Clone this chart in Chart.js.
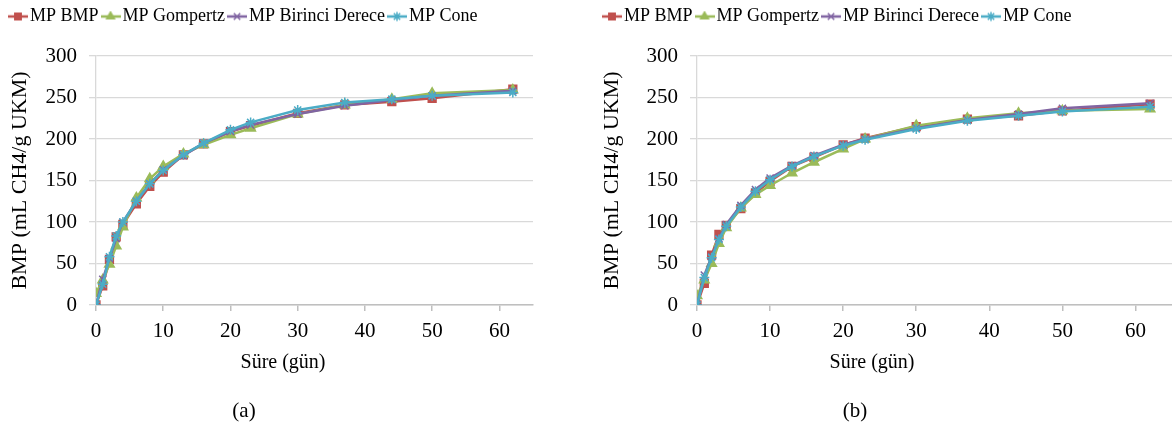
<!DOCTYPE html>
<html lang="tr">
<head>
<meta charset="utf-8">
<title>BMP</title>
<script src="https://cdn.jsdelivr.net/npm/chart.js"></script>
<style>
    body { margin: 0; background: #fff; width: 1173px; height: 425px; position: relative; overflow: hidden; font-family: "Liberation Serif", "Times New Roman", serif; }
    canvas { position: absolute; top: 0; }
    #grafikA { left: 0; }
    #grafikB { left: 572px; }
    .etiket { position: absolute; top: 397px; width: 60px; text-align: center; font-size: 21px; line-height: 26px; color: #000; }
</style>
</head>
<body>
<canvas id="grafikA" width="566" height="425"></canvas>
<canvas id="grafikB" width="600" height="425"></canvas>
<div class="etiket" style="left:214px">(a)</div>
<div class="etiket" style="left:825px">(b)</div>

<script>
/*******************************************************************************/
// Veriler

const gunler = [0, 1, 2, 3, 4, 6, 8, 10, 13, 16, 20, 23, 30, 37, 44, 50, 62];
const seriAdlari = ["MP BMP", "MP Gompertz", "MP Birinci Derece", "MP Cone"];

// (a)
const aBmp      = [0, 23, 55, 82, 97, 122, 143, 160, 181, 194, 209, 216, 231, 241, 245, 249, 260];
const aGompertz = [14, 30, 49, 71, 94, 129, 152, 167, 182, 193, 205, 213, 230, 241, 248, 255, 259];
const aBirinci  = [0, 31, 56, 80, 100, 125, 146, 163, 180, 195, 209, 217, 230, 240, 247, 252, 258];
const aCone     = [0, 25, 58, 83, 100, 125, 146, 162, 181, 195, 211, 220, 235, 244, 248, 252, 256];

// (b)
const bBmp      = [0, 26, 60, 85, 96, 116, 135, 149, 167, 178, 193, 201, 215, 224, 228, 234, 242];
const bGompertz = [11, 30, 50, 74, 93, 117, 133, 144, 159, 172, 188, 200, 216, 225, 231, 234, 236];
const bBirinci  = [0, 36, 58, 80, 97, 120, 139, 153, 168, 180, 193, 200, 213, 223, 230, 237, 243];
const bCone     = [0, 33, 57, 79, 95, 118, 137, 151, 167, 179, 192, 199, 212, 222, 228, 233, 239];

const xTicks = [0, 10, 20, 30, 40, 50, 60];
const yTicks = [0, 50, 100, 150, 200, 250, 300];

/*******************************************************************************/
// Stil

const renkler = ["#C0504D", "#9BBB59", "#8064A2", "#4BACC6"];
const isaretler = ["rect", "triangle", "crossRot", "star"];
const yaricaplar = [5.5, 5.5, 5, 5];

Chart.defaults.font.family = '"Liberation Serif", "Times New Roman", serif';
Chart.defaults.color = "#000";

// legend icin cizgi + isaret
function legendResmi(i) {
    const c = document.createElement("canvas");
    c.width = 20;
    c.height = 12;
    const ctx = c.getContext("2d");
    ctx.strokeStyle = renkler[i];
    ctx.lineWidth = 2.5;
    ctx.beginPath();
    ctx.moveTo(0, 6);
    ctx.lineTo(20, 6);
    ctx.stroke();
    ctx.fillStyle = renkler[i];
    ctx.lineWidth = 1.5;
    Chart.helpers.drawPoint(ctx, { pointStyle: isaretler[i], radius: 4.5, rotation: 0, borderWidth: 1.5 }, 10, 6);
    return c;
}
const legendResimleri = renkler.map((r, i) => legendResmi(i));

// legend yuksekligi ve konumu
const legendKaydir = {
    id: "legendKaydir",
    beforeInit(chart) {
        const eskiFit = chart.legend.fit;
        chart.legend.fit = function () {
            eskiFit.call(this);
            this.height = 56;
        };
    },
    afterLayout(chart, args, opts) {
        const lg = chart.legend;
        lg.left += opts.dx;
        lg.right += opts.dx;
        lg.top += opts.dy;
        lg.bottom += opts.dy;
    }
};

/*******************************************************************************/
// Grafik

function grafikCiz(id, seriler, ayar) {
    const datasets = seriler.map((veri, i) => ({
        label: seriAdlari[i],
        data: gunler.map((g, j) => ({ x: g, y: veri[j] })),
        borderColor: renkler[i],
        backgroundColor: renkler[i],
        borderWidth: 2.5,
        pointStyle: isaretler[i],
        pointRadius: yaricaplar[i],
        pointBorderWidth: 1.5,
        tension: 0,
        order: 3 - i
    }));

    const scales = {
        x: {
            type: "linear",
            min: 0,
            max: 65,
            afterBuildTicks: (s) => { s.ticks = xTicks.map((v) => ({ value: v })); },
            afterFit: (s) => { s.height = 40; },
            grid: { drawOnChartArea: false, color: "#bfbfbf", tickLength: 6, lineWidth: 1.5 },
            border: { color: "#bfbfbf", width: 1.5 },
            ticks: { font: { size: 21 }, padding: 8, maxRotation: 0, autoSkip: false }
        },
        y: {
            min: 0,
            max: 300,
            afterBuildTicks: (s) => { s.ticks = yTicks.map((v) => ({ value: v })); },
            afterFit: (s) => { s.width = ayar.solGenislik; },
            grid: { color: "#d9d9d9", tickLength: 7, lineWidth: 1.3 },
            border: { color: "#d9d9d9", width: 1.3 },
            ticks: { font: { size: 21 }, padding: 12 },
            title: {
                display: true,
                text: "BMP (mL CH4/g UKM)",
                font: { size: 22 },
                padding: { top: ayar.baslikBosluk, bottom: 0 }
            }
        }
    };
    if (ayar.sagBosluk) {
        scales.sag = {
            position: "right",
            display: true,
            grid: { display: false },
            border: { display: false },
            ticks: { display: false },
            afterFit: (s) => { s.width = ayar.sagBosluk; }
        };
    }

    return new Chart(document.getElementById(id), {
        type: "line",
        data: { datasets: datasets },
        plugins: [legendKaydir],
        options: {
            responsive: false,
            animation: false,
            events: [],
            layout: { autoPadding: false, padding: { top: 0, left: 0, right: 0, bottom: 50 } },
            scales: scales,
            plugins: {
                tooltip: { enabled: false },
                legendKaydir: { dx: ayar.legendX, dy: -1.5 },
                legend: {
                    position: "top",
                    align: "start",
                    labels: {
                        usePointStyle: true,
                        pointStyleWidth: 6,
                        padding: 9,
                        color: "#000",
                        font: { size: 18 },
                        sort: (a, b) => a.datasetIndex - b.datasetIndex,
                        generateLabels: (chart) =>
                            Chart.defaults.plugins.legend.labels.generateLabels(chart).map((l) => {
                                l.pointStyle = legendResimleri[l.datasetIndex];
                                return l;
                            })
                    }
                },
                title: {
                    display: true,
                    position: "bottom",
                    text: "Süre (gün)",
                    color: "#000",
                    font: { size: 20, weight: "normal" },
                    padding: { top: 6, bottom: 0 }
                }
            }
        }
    });
}

grafikCiz("grafikA", [aBmp, aGompertz, aBirinci, aCone], { solGenislik: 96, sagBosluk: 33, baslikBosluk: 7, legendX: 6 });
grafikCiz("grafikB", [bBmp, bGompertz, bBirinci, bCone], { solGenislik: 125, sagBosluk: 0, baslikBosluk: 27, legendX: 28 });
</script>
</body>
</html>
